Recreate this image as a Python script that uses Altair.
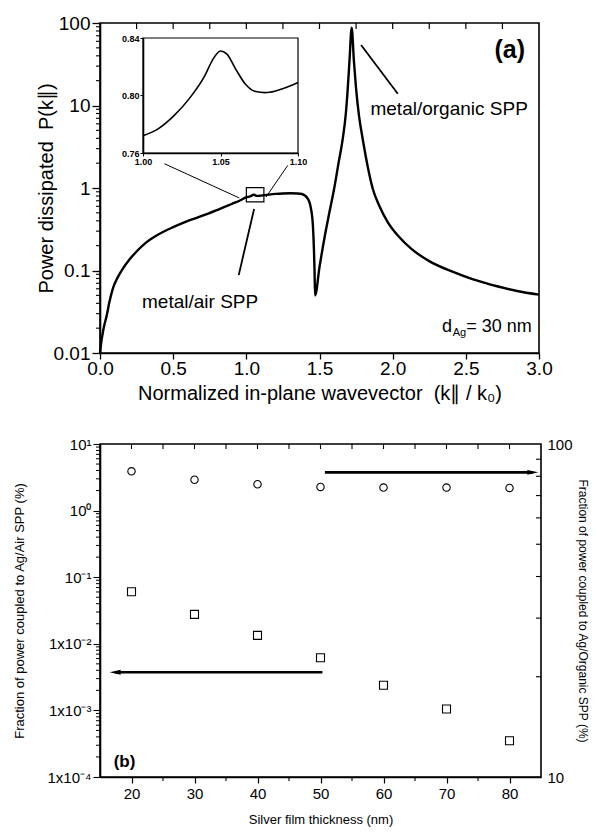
import altair as alt
import pandas as pd

FONT = "Liberation Sans"

# ---------------- panel (a) : power dissipated vs normalized in-plane wavevector ----------------
K_PAR = [0.0, 0.01, 0.02, 0.03, 0.045, 0.065, 0.09, 0.12, 0.16, 0.2, 0.25, 0.31, 0.37, 0.43, 0.5, 0.58, 0.66, 0.74, 0.82, 0.9, 0.96,
         1.0, 1.01, 1.02, 1.03, 1.04, 1.045, 1.05, 1.054, 1.06, 1.066, 1.072, 1.079, 1.085, 1.091, 1.1,
         1.15, 1.2, 1.25, 1.3, 1.35, 1.38, 1.4, 1.42, 1.435, 1.445, 1.455, 1.462, 1.466, 1.47,
         1.5, 1.533, 1.567, 1.6, 1.63, 1.659, 1.68, 1.693, 1.705, 1.72, 1.735, 1.75, 1.77, 1.795, 1.83, 1.864,
         1.91, 1.966, 2.04, 2.126, 2.25, 2.4, 2.55, 2.72, 2.85, 3.0]
POWER = [0.01, 0.014, 0.018, 0.022, 0.028, 0.042, 0.062, 0.082, 0.108, 0.135, 0.17, 0.215, 0.255, 0.293, 0.335, 0.385, 0.435, 0.49, 0.56, 0.64, 0.71,
         0.772, 0.777, 0.786, 0.798, 0.814, 0.825, 0.831, 0.829, 0.818, 0.808, 0.803, 0.802, 0.803, 0.805, 0.809,
         0.83, 0.848, 0.858, 0.862, 0.858, 0.845, 0.81, 0.74, 0.64, 0.52, 0.35, 0.18, 0.1, 0.05,
         0.11, 0.243, 0.5, 0.98, 2.0, 3.96, 8.0, 16, 35, 88, 35, 16, 7.5, 3.96, 1.8, 0.98,
         0.6, 0.387, 0.26, 0.184, 0.13, 0.098, 0.078, 0.064, 0.0565, 0.051]

INSET_X_RANGE = [1.0, 1.1]
INSET_Y_RANGE = [0.76, 0.84]
INSET_X_TICKS = [1.0, 1.05, 1.1]
INSET_Y_TICKS = [0.76, 0.80, 0.84]

A_X_TICKS = [0.0, 0.25, 0.5, 0.75, 1.0, 1.25, 1.5, 1.75, 2.0, 2.25, 2.5, 2.75, 3.0]
A_X_LABELED = [0.0, 0.5, 1.0, 1.5, 2.0, 2.5, 3.0]
A_X_LABELS = ["0.0", "0.5", "1.0", "1.5", "2.0", "2.5", "3.0"]
A_Y_DECADES = [0.01, 0.1, 1, 10, 100]
A_Y_LABELS = ["0.01", "0.1", "1", "10", "100"]

# annotation lines of panel (a): (x, y) -> (x2, y2) in data units
A_LINE_X = [1.784, 0.948, 0.44, 1.283]
A_LINE_Y = [54, 0.088, 1.97, 1.88]
A_LINE_X2 = [2.035, 1.053, 0.952, 1.135]
A_LINE_Y2 = [13.9, 0.556, 0.757, 0.778]
A_LINE_W = [1.8, 1.8, 1.0, 1.0]
A_BOX = {"x": [1.0], "x2": [1.12], "y": [0.68], "y2": [1.01]}

# ---------------- panel (b) : fractions of power vs silver thickness ----------------
THICKNESS = [20, 30, 40, 50, 60, 70, 80]
AIR_SPP = [0.0605, 0.0277, 0.0134, 0.00618, 0.00238, 0.00105, 0.00035]
ORGANIC_SPP = [82.8, 78.1, 75.7, 74.3, 74.0, 74.0, 73.8]

B_X_MAJOR = [20, 30, 40, 50, 60, 70, 80]
B_X_MINOR = [15, 25, 35, 45, 55, 65, 75, 85]
B_LEFT_DECADES = [1e-4, 1e-3, 1e-2, 1e-1, 1, 10]
B_LEFT_LABELS = ["1x10\u207b\u2074", "1x10\u207b\u00b3", "1x10\u207b\u00b2", "10\u207b\u00b9", "10\u2070", "10\u00b9"]
B_RIGHT_VALUES = [10, 100]
B_RIGHT_MINOR = [20, 30, 40, 50, 60, 70, 80, 90]


def log_minor(lo_exp, hi_exp):
    return [float(f"{m}e{e}") for e in range(lo_exp, hi_exp) for m in range(2, 10)]


def label_expr(values, labels):
    parts = [f"abs(datum.value - {v!r}) < {abs(v) * 1e-6 + 1e-12!r} ? '{lab}'" for v, lab in zip(values, labels)]
    return " : ".join(parts) + " : ''"


# ================= panel (a) =================
W_A, H_A = 439, 330
xs_a = alt.Scale(domain=[0, 3], nice=False, zero=False)
ys_a = alt.Scale(type="log", domain=[0.01, 100], nice=False)

axis_xa = alt.Axis(values=A_X_TICKS, labelExpr=label_expr(A_X_LABELED, A_X_LABELS), tickSize=6, tickWidth=1.3,
                   labelFontSize=19, labelPadding=0, labelFlush=False, labelOverlap=False, labelAngle=0,
                   title="Normalized in-plane wavevector\u00a0\u00a0(k\u2225 / k\u2080)", titleFontSize=20,
                   titlePadding=5, grid=False)
axis_ya = alt.Axis(values=A_Y_DECADES, labelExpr=label_expr(A_Y_DECADES, A_Y_LABELS), tickSize=8, tickWidth=1.3,
                   labelFontSize=19, labelPadding=2, labelOverlap=False, labelFlush=False,
                   title="Power dissipated\u00a0\u00a0P(k\u2225)", titleFontSize=20, titlePadding=-3, grid=False)

main_df = pd.DataFrame({"k": K_PAR, "P": POWER})
main_line = alt.Chart(main_df).mark_line(color="black", strokeWidth=2.4, interpolate="monotone").encode(
    x=alt.X("k:Q", scale=xs_a, axis=axis_xa),
    y=alt.Y("P:Q", scale=ys_a, axis=axis_ya),
)

lines_df = pd.DataFrame({"k": A_LINE_X, "P": A_LINE_Y, "k2": A_LINE_X2, "P2": A_LINE_Y2, "w": A_LINE_W})
ann_lines = alt.Chart(lines_df).mark_rule(color="black").encode(
    x=alt.X("k:Q", scale=xs_a), x2="k2:Q",
    y=alt.Y("P:Q", scale=ys_a), y2="P2:Q",
    strokeWidth=alt.StrokeWidth("w:Q", scale=None),
)

box = alt.Chart(pd.DataFrame({"k": A_BOX["x"], "k2": A_BOX["x2"], "P": A_BOX["y"], "P2": A_BOX["y2"]})).mark_rect(
    fillOpacity=0, stroke="black", strokeWidth=1.2).encode(
    x=alt.X("k:Q", scale=xs_a), x2="k2:Q", y=alt.Y("P:Q", scale=ys_a), y2="P2:Q")

top_ticks_a = alt.Chart(pd.DataFrame({"k": A_X_TICKS[1:-1]})).mark_rule(color="black", strokeWidth=1.2).encode(
    x=alt.X("k:Q", scale=xs_a), y=alt.value(0), y2=alt.value(6))
minor_y_a = alt.Chart(pd.DataFrame({"P": log_minor(-2, 2)})).mark_rule(color="black", strokeWidth=1.1).encode(
    y=alt.Y("P:Q", scale=ys_a), x=alt.value(-4), x2=alt.value(0))

texts_a = pd.DataFrame({
    "k": [2.80, 2.386, 0.684, 2.502],
    "P": [47.0, 9.08, 0.0415, 0.0207],
    "label": ["(a)", "metal/organic SPP", "metal/air SPP", "= 30 nm"],
})
txt_a_label = alt.Chart(texts_a.iloc[[0]]).mark_text(font=FONT, fontSize=25, fontWeight="bold", color="black",
                                                   baseline="middle", align="center").encode(
    x=alt.X("k:Q", scale=xs_a), y=alt.Y("P:Q", scale=ys_a), text="label:N")
txt_a_ann = alt.Chart(texts_a.iloc[[1, 2]]).mark_text(font=FONT, fontSize=19, color="black",
                                                     baseline="middle", align="center").encode(
    x=alt.X("k:Q", scale=xs_a), y=alt.Y("P:Q", scale=ys_a), text="label:N")
txt_d_rest = alt.Chart(texts_a.iloc[[3]]).mark_text(font=FONT, fontSize=18, color="black",
                                                   baseline="middle", align="left").encode(
    x=alt.X("k:Q", scale=xs_a), y=alt.Y("P:Q", scale=ys_a), text="label:N")
dsub_df = pd.DataFrame({"k": [2.502], "P": [0.0207], "label": ["Ag"]})
txt_d_sub = alt.Chart(dsub_df).mark_text(font=FONT, fontSize=11, color="black", baseline="middle",
                                         align="right", dy=6).encode(
    x=alt.X("k:Q", scale=xs_a), y=alt.Y("P:Q", scale=ys_a), text="label:N")
d_df = pd.DataFrame({"k": [2.502], "P": [0.0207], "label": ["d"]})
txt_d = alt.Chart(d_df).mark_text(font=FONT, fontSize=18, color="black", baseline="middle",
                                  align="right", dx=-14).encode(
    x=alt.X("k:Q", scale=xs_a), y=alt.Y("P:Q", scale=ys_a), text="label:N")

main_group = alt.layer(main_line, box, ann_lines, top_ticks_a, minor_y_a, txt_a_label, txt_a_ann,
                       txt_d_rest, txt_d_sub, txt_d)

# inset
IX0, IX1, IY0, IY1 = 43, 198, 130, 15
xs_in = alt.Scale(domain=INSET_X_RANGE, range=[IX0, IX1], nice=False, zero=False)
ys_in = alt.Scale(domain=INSET_Y_RANGE, range=[IY0, IY1], nice=False, zero=False)
inset_df = main_df[(main_df.k >= INSET_X_RANGE[0]) & (main_df.k <= INSET_X_RANGE[1])]
inset_line = alt.Chart(inset_df).mark_line(color="black", strokeWidth=1.6, interpolate="monotone").encode(
    x=alt.X("k:Q", scale=xs_in, axis=alt.Axis(orient="bottom", offset=IY0 - H_A, values=INSET_X_TICKS, format=".2f",
                                              title=None, labelFontSize=9, labelFontWeight="bold", tickSize=3,
                                              labelPadding=1, labelFlush=False, grid=False)),
    y=alt.Y("P:Q", scale=ys_in, axis=alt.Axis(orient="left", offset=-IX0, values=INSET_Y_TICKS, format=".2f",
                                              title=None, labelFontSize=9, labelFontWeight="bold", tickSize=3,
                                              labelPadding=1, grid=False)),
)
inset_frame = alt.Chart(pd.DataFrame({"k": [INSET_X_RANGE[0]], "k2": [INSET_X_RANGE[1]],
                                      "P": [INSET_Y_RANGE[0]], "P2": [INSET_Y_RANGE[1]]})).mark_rect(
    fillOpacity=0, stroke="black", strokeWidth=1.2).encode(
    x=alt.X("k:Q", scale=xs_in), x2="k2:Q", y=alt.Y("P:Q", scale=ys_in), y2="P2:Q")
inset_group = alt.layer(inset_line, inset_frame)

panel_a = alt.layer(main_group, inset_group).resolve_scale(x="independent", y="independent").properties(
    width=W_A, height=H_A)

# ================= panel (b) =================
W_B, H_B = 441, 333
xs_b = alt.Scale(domain=[15, 85], nice=False, zero=False)
yl_b = alt.Scale(type="log", domain=[1e-4, 10], nice=False)
yr_b = alt.Scale(type="log", domain=[10, 100], nice=False)

axis_xb = alt.Axis(values=B_X_MAJOR, format="d", tickSize=6, tickWidth=1.2, labelFontSize=15, labelPadding=3,
                   labelFlush=False, labelOverlap=False, labelAngle=0, title="Silver film thickness (nm)",
                   titleFontSize=13, titlePadding=12, grid=False)
axis_ylb = alt.Axis(values=B_LEFT_DECADES, labelExpr=label_expr(B_LEFT_DECADES, B_LEFT_LABELS), tickSize=7,
                    tickWidth=1.1, labelFontSize=15, labelPadding=2, labelOverlap=False, labelFlush=False,
                    title="Fraction of power coupled to Ag/Air SPP (%)", titleFontSize=13, titlePadding=21,
                    grid=False)
axis_yrb = alt.Axis(orient="right", values=B_RIGHT_VALUES, format="d", ticks=False, domain=False, labelFontSize=15,
                    labelPadding=6, labelOverlap=False, labelFlush=False,
                    title="Fraction of power coupled to Ag/Organic SPP (%)", titleFontSize=12, titlePadding=3,
                    grid=False)

b_df = pd.DataFrame({"t": THICKNESS, "air": AIR_SPP, "org": ORGANIC_SPP})
squares = alt.Chart(b_df).mark_point(shape="square", filled=False, size=64, color="black", strokeWidth=1.1,
                                     opacity=1).encode(
    x=alt.X("t:Q", scale=xs_b, axis=axis_xb),
    y=alt.Y("air:Q", scale=yl_b, axis=axis_ylb),
)
circles = alt.Chart(b_df).mark_point(shape="circle", filled=False, size=55, color="black", strokeWidth=1.1,
                                     opacity=1).encode(
    x=alt.X("t:Q", scale=xs_b),
    y=alt.Y("org:Q", scale=yr_b, axis=axis_yrb),
)

ARROW_L = {"t": [50.3], "t2": [17.4], "air": [0.00373]}
ARROW_R = {"t": [50.7], "t2": [83.7], "org": [82.2]}
arrow_l = alt.Chart(pd.DataFrame(ARROW_L)).mark_rule(color="black", strokeWidth=2.6).encode(
    x=alt.X("t:Q", scale=xs_b), x2="t2:Q", y=alt.Y("air:Q", scale=yl_b))
head_l = alt.Chart(pd.DataFrame({"t": ARROW_L["t2"], "air": ARROW_L["air"]})).mark_point(
    shape="M-1,0L1,-0.45L1,0.45Z", filled=True, size=120, color="black", opacity=1).encode(
    x=alt.X("t:Q", scale=xs_b), y=alt.Y("air:Q", scale=yl_b))
arrow_r = alt.Chart(pd.DataFrame(ARROW_R)).mark_rule(color="black", strokeWidth=2.6).encode(
    x=alt.X("t:Q", scale=xs_b), x2="t2:Q", y=alt.Y("org:Q", scale=yr_b))
head_r = alt.Chart(pd.DataFrame({"t": ARROW_R["t2"], "org": ARROW_R["org"]})).mark_point(
    shape="M1,0L-1,-0.45L-1,0.45Z", filled=True, size=120, color="black", opacity=1).encode(
    x=alt.X("t:Q", scale=xs_b), y=alt.Y("org:Q", scale=yr_b))

top_ticks_b = alt.Chart(pd.DataFrame({"t": sorted(B_X_MAJOR + B_X_MINOR[1:-1])})).mark_rule(
    color="black", strokeWidth=1.1).encode(x=alt.X("t:Q", scale=xs_b), y=alt.value(0), y2=alt.value(5))
bottom_minor_b = alt.Chart(pd.DataFrame({"t": B_X_MINOR[1:-1]})).mark_rule(color="black", strokeWidth=1.1).encode(
    x=alt.X("t:Q", scale=xs_b), y=alt.value(H_B), y2=alt.value(H_B + 4))
left_minor_b = alt.Chart(pd.DataFrame({"air": log_minor(-4, 1)})).mark_rule(color="black", strokeWidth=1.0).encode(
    y=alt.Y("air:Q", scale=yl_b), x=alt.value(-4), x2=alt.value(0))
right_ticks_b = alt.Chart(pd.DataFrame({"org": B_RIGHT_MINOR})).mark_rule(color="black", strokeWidth=1.1).encode(
    y=alt.Y("org:Q", scale=yr_b), x=alt.value(W_B - 5), x2=alt.value(W_B))

b_label = alt.Chart(pd.DataFrame({"t": [18.9], "air": [1.68e-4], "label": ["(b)"]})).mark_text(
    font=FONT, fontSize=17, fontWeight="bold", color="black", baseline="middle", align="center").encode(
    x=alt.X("t:Q", scale=xs_b), y=alt.Y("air:Q", scale=yl_b), text="label:N")

left_group = alt.layer(squares, arrow_l, head_l, top_ticks_b, bottom_minor_b, left_minor_b, b_label)
right_group = alt.layer(circles, arrow_r, head_r, right_ticks_b)
panel_b = alt.layer(left_group, right_group).resolve_scale(y="independent").properties(width=W_B, height=H_B)

chart = alt.vconcat(panel_a, panel_b, spacing=32).properties(
    padding={"left": 4, "top": 5, "right": 0, "bottom": 0},
    background="white",
).configure_view(stroke="black", strokeWidth=1.6).configure_axis(
    labelFont=FONT, titleFont=FONT, labelColor="black", titleColor="black", tickColor="black",
    domainColor="black", domainWidth=1.6, titleFontWeight="normal",
)

chart.save("out.html", embed_options={"renderer": "svg", "actions": False})
